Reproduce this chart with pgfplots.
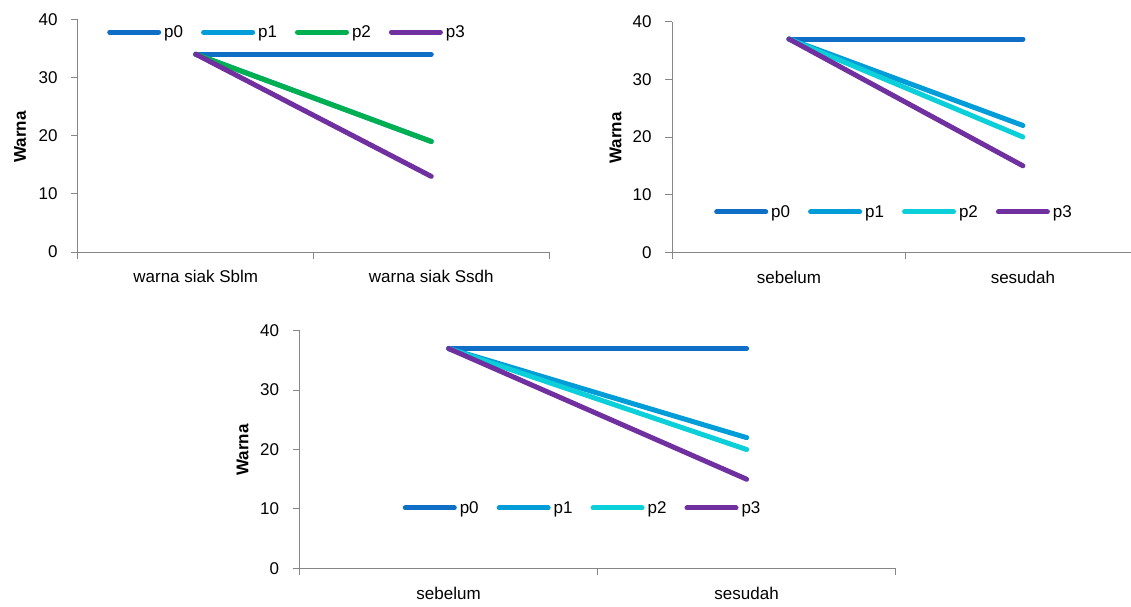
\documentclass[border=0pt]{standalone}
\usepackage{fontspec}
\setmainfont{Liberation Sans}
\usepackage{pgfplots}
\pgfplotsset{compat=1.18}
\definecolor{cpzero}{HTML}{0F6FC6}
\definecolor{cpone}{HTML}{009DD9}
\definecolor{cgreen}{HTML}{00B050}
\definecolor{ccyan}{HTML}{0BD0D9}
\definecolor{cpurple}{HTML}{7030A0}
\definecolor{axgray}{HTML}{868686}
\pgfplotsset{
  mychart/.style={
    scale only axis, anchor=south west,
    xmin=0, ymin=0, ymax=40,
    axis x line*=bottom, axis y line*=left,
    axis line style={draw=axgray, line width=1pt, -},
    ytick={0,10,20,30,40},
    tick align=outside,
    tick style={draw=axgray, line width=1pt},
    major tick length=7pt,
    xtick={0,1,2}, xticklabels={,,},
    extra x tick style={major tick length=0pt, xticklabel style={yshift=-15pt}},
    ticklabel style={font=\fontsize{17}{20}\selectfont},
    yticklabel style={xshift=-10pt},
    /pgf/number format/assume math mode=true,
    ylabel={\bfseries Warna},
    label style={font=\fontsize{17}{20}\selectfont},
    legend columns=4,
    legend style={draw=none, fill=none, font=\fontsize{17}{20}\selectfont,
      /tikz/every odd column/.append style={column sep=2pt},
      /tikz/every even column/.append style={column sep=17pt},
      nodes={inner sep=1pt}},
    legend image code/.code={\draw[#1] (0pt,0pt) -- (49pt,0pt);},
    every axis plot/.append style={line width=5pt, line cap=round, mark=none},
  }
}
\begin{document}
\begin{tikzpicture}
\useasboundingbox (0,0) rectangle (1131pt,-606pt);
% Chart 1
\begin{axis}[mychart, at={(78pt,-252pt)}, width=471pt, height=232.7pt, xmax=2,
  extra x ticks={0.5,1.5}, extra x tick labels={warna siak Sblm,warna siak Ssdh},
  ylabel style={at={(axis description cs:-0.123,0.494)}, anchor=center},
  legend style={at={(0.4427,0.945)}, anchor=center}]
\addplot[cpzero] coordinates {(0.5,34) (1.5,34)};
\addlegendentry{p0}
\addplot[cpone] coordinates {(0.5,34) (1.5,19)};
\addlegendentry{p1}
\addplot[cgreen] coordinates {(0.5,34) (1.5,19)};
\addlegendentry{p2}
\addplot[cpurple] coordinates {(0.5,34) (1.5,13)};
\addlegendentry{p3}
\end{axis}
% Chart 2
\begin{axis}[mychart, at={(672pt,-252.3pt)}, width=459pt, height=230.6pt, xmax=1.962,
  extra x ticks={0.5,1.5}, extra x tick labels={sebelum,sesudah},
  ylabel style={at={(axis description cs:-0.123,0.496)}, anchor=center},
  legend style={at={(0.4826,0.175)}, anchor=center}]
\addplot[cpzero] coordinates {(0.5,37) (1.5,37)};
\addlegendentry{p0}
\addplot[cpone] coordinates {(0.5,37) (1.5,22)};
\addlegendentry{p1}
\addplot[ccyan] coordinates {(0.5,37) (1.5,20)};
\addlegendentry{p2}
\addplot[cpurple] coordinates {(0.5,37) (1.5,15)};
\addlegendentry{p3}
\end{axis}
% Chart 3
\begin{axis}[mychart, at={(299.6pt,-568.3pt)}, width=596pt, height=237.6pt, xmax=2,
  extra x ticks={0.5,1.5}, extra x tick labels={sebelum,sesudah},
  ylabel style={at={(axis description cs:-0.0958,0.498)}, anchor=center},
  legend style={at={(0.474,0.254)}, anchor=center}]
\addplot[cpzero] coordinates {(0.5,37) (1.5,37)};
\addlegendentry{p0}
\addplot[cpone] coordinates {(0.5,37) (1.5,22)};
\addlegendentry{p1}
\addplot[ccyan] coordinates {(0.5,37) (1.5,20)};
\addlegendentry{p2}
\addplot[cpurple] coordinates {(0.5,37) (1.5,15)};
\addlegendentry{p3}
\end{axis}
\end{tikzpicture}
\end{document}
